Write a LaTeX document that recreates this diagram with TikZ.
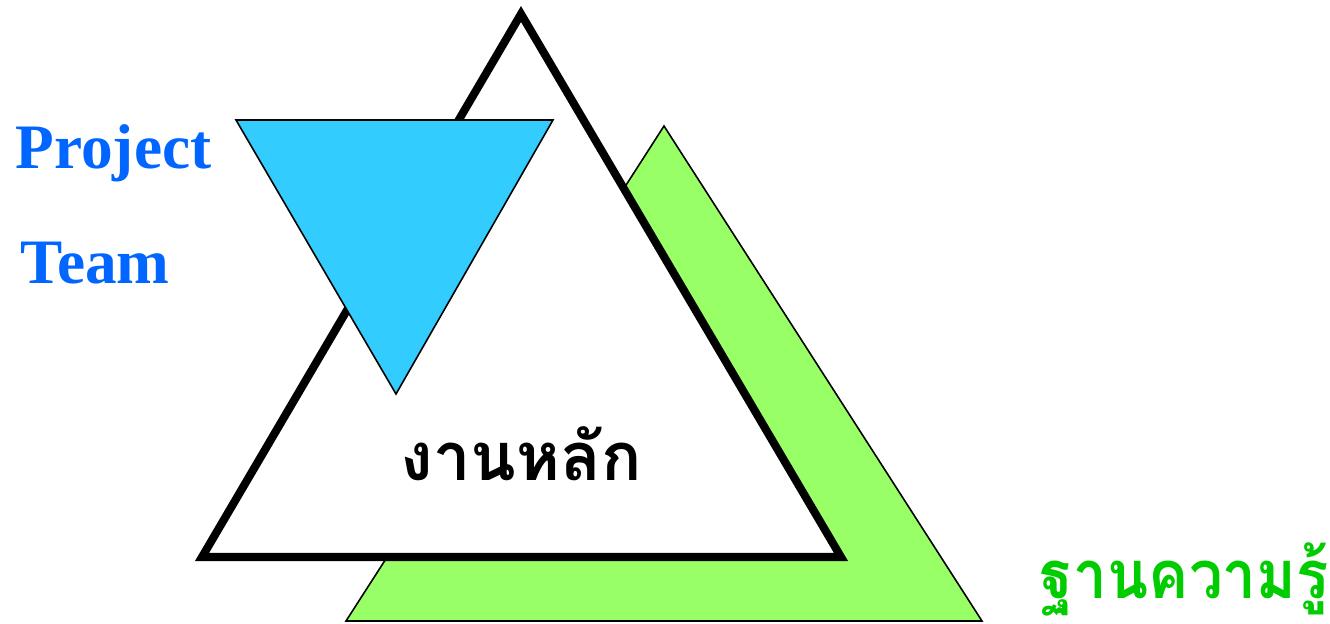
\documentclass[tikz,border=0pt]{standalone}
\usepackage{graphicx}
\usepackage{fontspec}
\setmainfont{Liberation Serif}
\newfontfamily\thaifont[Script=Thai]{Loma}
\definecolor{TeamBlue}{RGB}{0,102,255}
\definecolor{SkyFill}{RGB}{51,204,255}
\definecolor{LimeFill}{RGB}{153,255,102}
\definecolor{BaseGreen}{RGB}{0,204,0}
\tikzset{
  tri/.style={draw=black,line width=0.45pt,line join=miter},
  coretri/.style={draw=black,fill=white,line width=2.3pt,line join=miter},
  teamlabel/.style={text=TeamBlue,font=\fontsize{18}{20}\selectfont\bfseries,inner sep=0pt,anchor=base west},
  thailabel/.style={font=\thaifont\bfseries\fontsize{19}{22}\selectfont,inner sep=0pt}
}
\begin{document}
\begin{tikzpicture}[x={(0.01cm,0)},y={(0,-0.01cm)}]
  \useasboundingbox (0,0) rectangle (1330,623);
  % knowledge base
  \draw[tri,fill=LimeFill] (664,126) -- (982,621) -- (346,621) -- cycle;
  % main work
  \draw[coretri] (521,14) -- (841,557) -- (202,557) -- cycle;
  % project team
  \draw[tri,fill=SkyFill] (236,120) -- (553,120) -- (396,394) -- cycle;
  \node[teamlabel] (project) at (15,168) {Project};
  \node[teamlabel] (team) at (20,283) {Team};
  \node[thailabel,anchor=base] (work) at (521,480) {งานหลัก};
  \node[thailabel,text=BaseGreen,anchor=base west] (base) at (1040,598) {\scalebox{0.9}[1]{ฐานความรู้}};
\end{tikzpicture}
\end{document}
